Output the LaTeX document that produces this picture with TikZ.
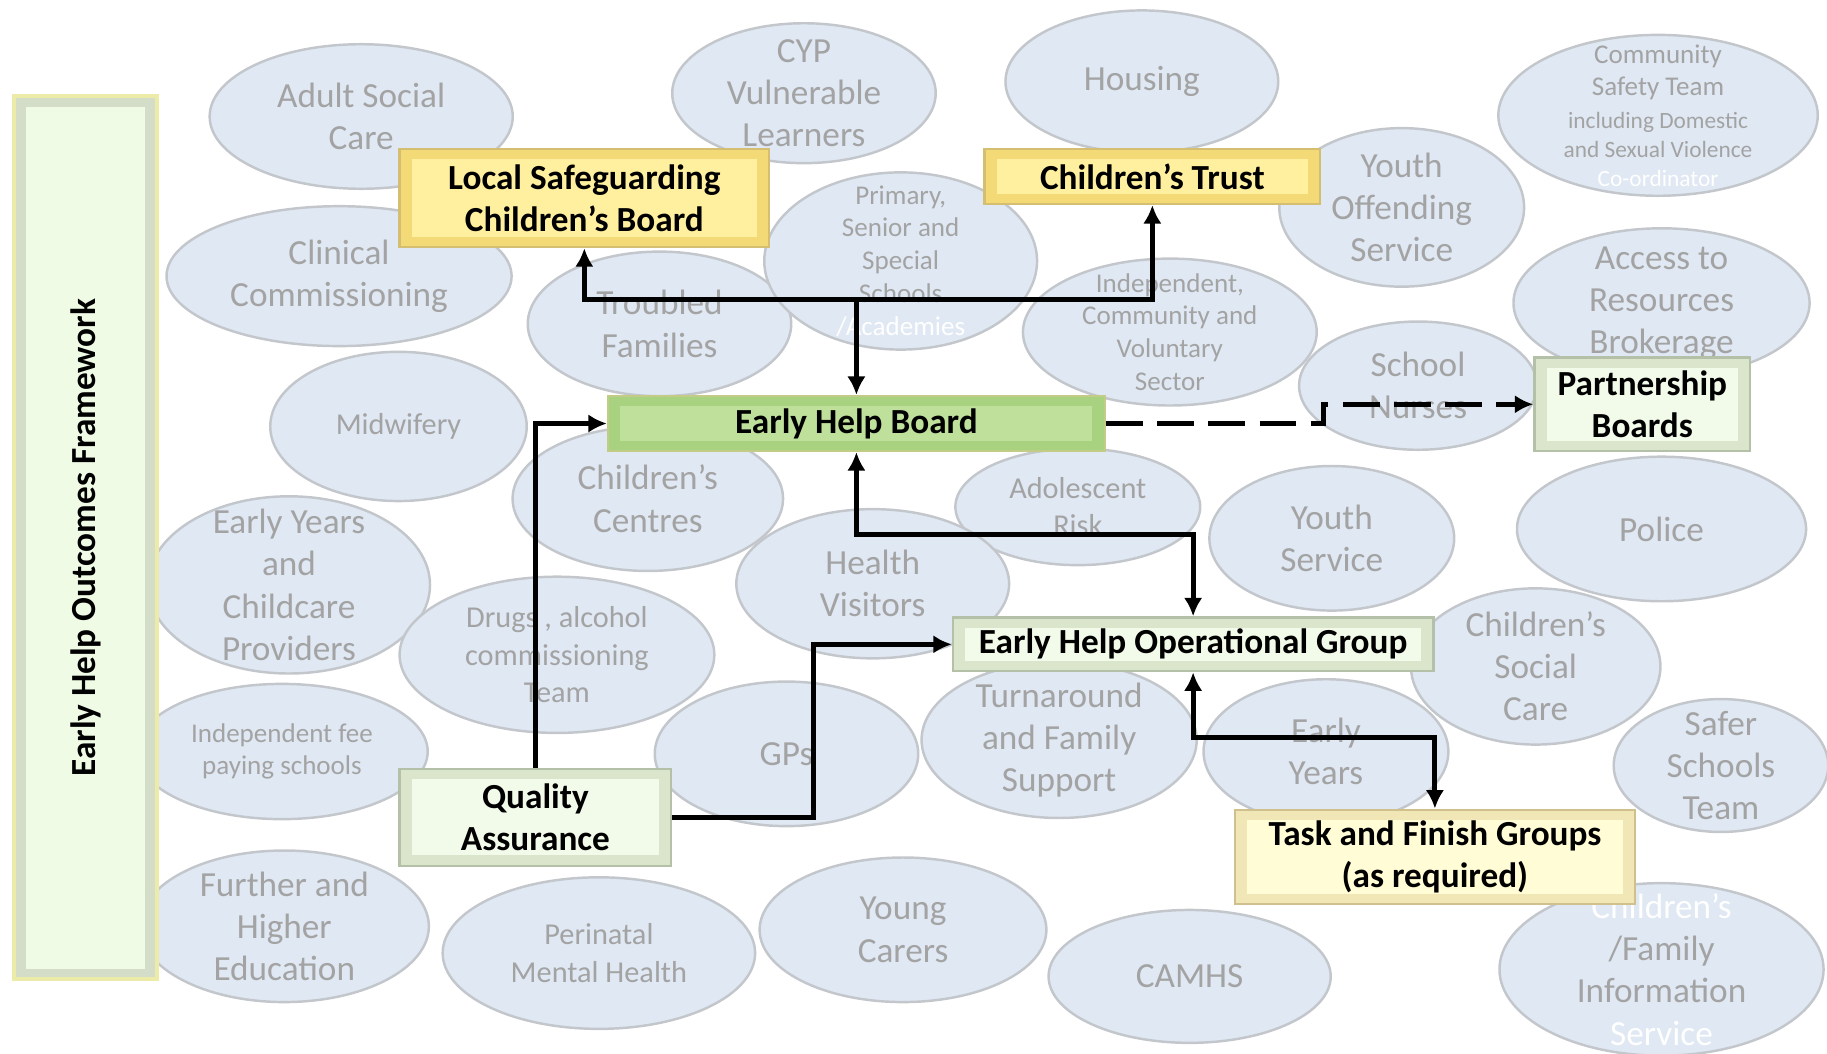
\documentclass[tikz,border=0pt]{standalone}
\usepackage{fontspec}
\setmainfont{Carlito}
\usepackage{tikz}
\usetikzlibrary{shapes.geometric, arrows.meta, positioning}

\definecolor{agencyfill}{HTML}{DFE8F3}
\definecolor{agencyline}{HTML}{C3C7CC}
\definecolor{agencytext}{HTML}{A3A3A3}
\definecolor{yellowout}{HTML}{F4D977}
\definecolor{yellowin}{HTML}{FFF0A0}
\definecolor{yellowline}{HTML}{D4BE72}
\definecolor{creamout}{HTML}{F0E6B6}
\definecolor{creamin}{HTML}{FFFCD6}
\definecolor{creamline}{HTML}{CFC08E}
\definecolor{greenout}{HTML}{A8D27F}
\definecolor{greenin}{HTML}{BEE09A}
\definecolor{greenline}{HTML}{C2CC86}
\definecolor{paleout}{HTML}{DAE5CC}
\definecolor{palein}{HTML}{F2FAE9}
\definecolor{paleline}{HTML}{B5C0A8}
\definecolor{frameout}{HTML}{D3DDC8}
\definecolor{framein}{HTML}{F0FBE6}
\definecolor{frameline}{HTML}{ECECA8}

\tikzset{
    agency/.style={ellipse, draw=agencyline, fill=agencyfill, line width=0.6pt, inner sep=0pt},
    agtext/.style={text=agencytext, align=center, font=\fontsize{8.6}{10.3}\selectfont},
    agmid/.style={text=agencytext, align=center, font=\fontsize{7.4}{9.1}\selectfont},
    agsmall/.style={text=agencytext, align=center, font=\fontsize{6.6}{8}\selectfont},
    bevel/.style 2 args={fill=#1, path picture={\fill[#2] ([shift={(3pt,-2.5pt)}]path picture bounding box.north west) rectangle ([shift={(-3pt,2.5pt)}]path picture bounding box.south east);}},
    board/.style={rectangle, align=center, inner sep=0pt, line width=0.6pt, font=\fontsize{8.6}{10.3}\selectfont\bfseries},
    yellowboard/.style={board, draw=yellowline, bevel={yellowout}{yellowin}},
    creamboard/.style={board, draw=creamline, bevel={creamout}{creamin}},
    greenboard/.style={board, draw=greenline, bevel={greenout}{greenin}},
    paleboard/.style={board, draw=paleline, bevel={paleout}{palein}},
    frameboard/.style={board, draw=frameline, line width=1pt, bevel={frameout}{framein}},
    link/.style={-{Latex[length=4.5pt,width=4.5pt]}, line width=1.2pt},
    twoway/.style={{Latex[length=4.5pt,width=4.5pt]}-{Latex[length=4.5pt,width=4.5pt]}, line width=1.2pt},
    dashlink/.style={link, dash pattern=on 9pt off 3.5pt}
}

\begin{document}
\begin{tikzpicture}[x=0.01cm, y=-0.01cm]
    \useasboundingbox (0,0) rectangle (1568,904);

    % Partner agencies
    \node[agency, minimum width=2.60cm, minimum height=1.24cm, label={[agtext]center:{Adult Social\\Care}}] (adultcare) at (310,100) {};
    \node[agency, minimum width=2.26cm, minimum height=1.20cm, label={[agtext]center:{CYP\\Vulnerable\\Learners}}] (cyp) at (690,80) {};
    \node[agency, minimum width=2.34cm, minimum height=1.22cm, label={[agtext]center:{Housing}}] (housing) at (980,70) {};
    \node[agency, minimum width=2.74cm, minimum height=1.38cm, label={[agsmall]center:{Community\\Safety Team\\{\fontsize{5.7}{7}\selectfont including Domestic}\\[-1pt]{\fontsize{5.7}{7}\selectfont and Sexual Violence}\\[-1pt]{\fontsize{5.7}{7}\selectfont\color{white} Co-ordinator}}}] (safety) at (1423,99) {};
    \node[agency, minimum width=2.96cm, minimum height=1.20cm, label={[agtext]center:{Clinical\\Commissioning}}] (clinical) at (291,237) {};
    \node[agency, minimum width=2.10cm, minimum height=1.36cm, label={[agtext]center:{Youth\\Offending\\Service}}] (yot) at (1203,178) {};
    \node[agency, minimum width=2.26cm, minimum height=1.24cm, label={[agtext]center:{Troubled\\Families}}] (troubled) at (566,278) {};
    \node[agency, minimum width=2.34cm, minimum height=1.52cm, label={[agsmall]center:{Primary,\\Senior and\\Special\\Schools\\{\color{white}/Academies}}}] (schools) at (773,224) {};
    \node[agency, minimum width=2.52cm, minimum height=1.26cm, label={[agsmall]center:{Independent,\\Community and\\Voluntary\\Sector}}] (vcs) at (1004,285) {};
    \node[agency, minimum width=2.54cm, minimum height=1.28cm, label={[agtext]center:{Access to\\Resources\\Brokerage}}] (brokerage) at (1426,260) {};
    \node[agency, minimum width=2.04cm, minimum height=1.10cm, label={[agtext]center:{School\\Nurses}}] (nurses) at (1217,331) {};
    \node[agency, minimum width=2.20cm, minimum height=1.28cm, label={[agmid]center:{Midwifery}}] (midwifery) at (342,366) {};
    \node[agency, minimum width=2.32cm, minimum height=1.24cm, label={[agtext]center:{Children’s\\Centres}}] (centres) at (556,428) {};
    \node[agency, minimum width=2.10cm, minimum height=1.00cm, label={[agmid]center:{Adolescent\\Risk}}] (adolescent) at (925,435) {};
    \node[agency, minimum width=2.10cm, minimum height=1.24cm, label={[agtext]center:{Youth\\Service}}] (youth) at (1143,462) {};
    \node[agency, minimum width=2.48cm, minimum height=1.24cm, label={[agtext]center:{Police}}] (police) at (1426,454) {};
    \node[agency, minimum width=2.42cm, minimum height=1.52cm, label={[agtext]center:{Early Years\\and\\Childcare\\Providers}}] (providers) at (248,502) {};
    \node[agency, minimum width=2.34cm, minimum height=1.28cm, label={[agtext]center:{Health\\Visitors}}] (visitors) at (749,501) {};
    \node[agency, minimum width=2.70cm, minimum height=1.34cm, label={[agmid]center:{Drugs , alcohol\\commissioning\\Team}}] (drugs) at (478,562) {};
    \node[agency, minimum width=2.14cm, minimum height=1.34cm, label={[agtext]center:{Children’s\\Social\\Care}}] (socialcare) at (1318,572) {};
    \node[agency, minimum width=2.50cm, minimum height=1.16cm, label={[agsmall]center:{Independent fee\\paying schools}}] (feeschools) at (242,645) {};
    \node[agency, minimum width=2.26cm, minimum height=1.24cm, label={[agtext]center:{GPs}}] (gps) at (675,647) {};
    \node[agency, minimum width=2.36cm, minimum height=1.34cm, label={[agtext]center:{Turnaround\\and Family\\Support}}] (turnaround) at (909,635) {};
    \node[agency, minimum width=2.10cm, minimum height=1.24cm, label={[agtext]center:{Early\\Years}}] (earlyyears) at (1138,645) {};
    \node[agency, minimum width=1.84cm, minimum height=1.14cm, label={[agtext]center:{Safer\\Schools\\Team}}] (safer) at (1477,657) {};
    \node[agency, minimum width=2.48cm, minimum height=1.30cm, label={[agtext]center:{Further and\\Higher\\Education}}] (further) at (244,795) {};
    \node[agency, minimum width=2.68cm, minimum height=1.30cm, label={[agmid]center:{Perinatal\\Mental Health}}] (perinatal) at (514,818) {};
    \node[agency, minimum width=2.46cm, minimum height=1.24cm, label={[agtext]center:{Young\\Carers}}] (carers) at (775,798) {};
    \node[agency, minimum width=2.42cm, minimum height=1.14cm, label={[agtext]center:{CAMHS}}] (camhs) at (1021,838) {};
    \node[agency, minimum width=2.78cm, minimum height=1.48cm, label={[agtext]center:{{\color{white}Children’s}\\/Family\\Information\\{\color{white}Service}}}] (fis) at (1426,832) {};

    % Boards and groups
    \node[frameboard, minimum width=1.23cm, minimum height=7.57cm, label={[rotate=90, font=\fontsize{8.6}{10.3}\selectfont\bfseries]center:Early Help Outcomes Framework}] (outcomes) at (73.5,461.5) {};
    \node[yellowboard, minimum width=3.17cm, minimum height=0.84cm] (lscb) at (501.5,170) {Local Safeguarding\\Children’s Board};
    \node[yellowboard, minimum width=2.88cm, minimum height=0.47cm] (trust) at (989,151.5) {Children’s Trust};
    \node[greenboard, minimum width=4.26cm, minimum height=0.47cm] (ehb) at (735,363.5) {Early Help Board};
    \node[paleboard, minimum width=1.85cm, minimum height=0.80cm] (partners) at (1409.5,347) {Partnership\\Boards};
    \node[paleboard, minimum width=4.12cm, minimum height=0.46cm] (ehog) at (1024,553) {Early Help Operational Group};
    \node[paleboard, minimum width=2.33cm, minimum height=0.83cm] (qa) at (459.5,701.5) {Quality\\Assurance};
    \node[creamboard, minimum width=3.43cm, minimum height=0.81cm] (taskgroups) at (1231.5,735.5) {Task and Finish Groups\\(as required)};

    % Connectors
    \coordinate (hub) at (735,257);
    \draw[link] (hub) -| (lscb.south);
    \draw[link] (hub) -| (trust.south);
    \draw[link] (hub) -- (ehb.north);
    \draw[twoway] (ehb.south) -- ++(0,71) -| (ehog.north);
    \draw[link] (qa.north) |- (ehb.west);
    \draw[link] (qa.east) -- ++(121,0) |- (ehog.west);
    \draw[twoway] (ehog.south) -- ++(0,56) -| (taskgroups.north);
    \draw[dashlink] (ehb.east) -- ++(187,0) |- (partners.west);
\end{tikzpicture}
\end{document}
